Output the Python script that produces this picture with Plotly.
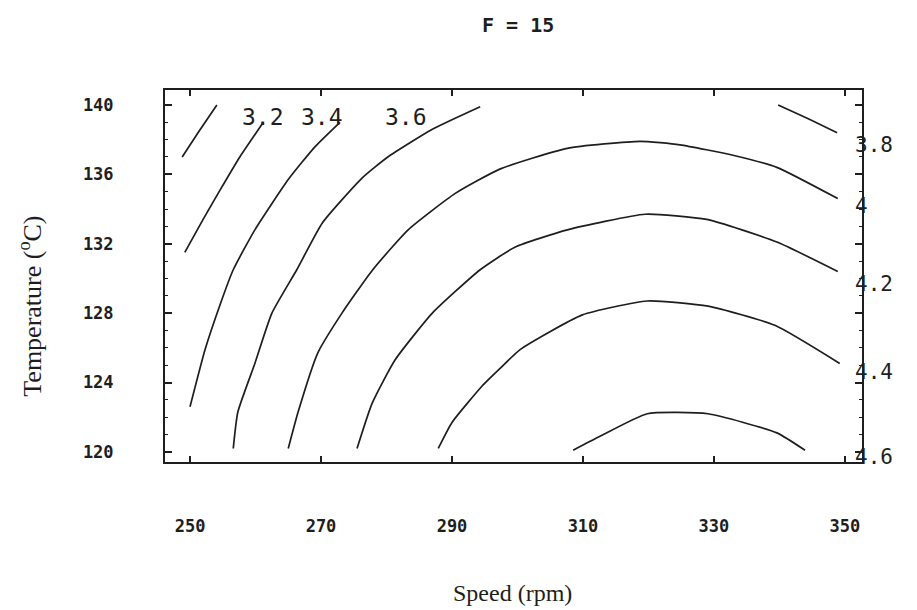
import plotly.graph_objects as go

# ---- axis ticks ----
speed_ticks = [250, 270, 290, 310, 330, 350]
temp_ticks = [120, 124, 128, 132, 136, 140]

# ---- contour lines (speed rpm, temperature C) ----
levels = [3.2, 3.4, 3.6, 3.8, 4.0, 4.2, 4.4, 4.6]

s_32 = [248.8, 251.4, 254.1]
t_32 = [137.0, 138.5, 140.0]

s_34 = [249.2, 252.0, 254.6, 257.6, 261.2]
t_34 = [131.5, 133.4, 135.1, 137.0, 139.0]

s_36 = [250.0, 252.3, 254.6, 256.6, 259.9, 265.0, 269.1, 272.9]
t_36 = [122.6, 125.9, 128.5, 130.5, 132.8, 135.7, 137.6, 139.0]

s_38 = [256.6, 257.3, 259.9, 262.5, 266.3, 270.2, 276.3, 280.2, 287.0, 294.3,
        None, 339.8, 344.4, 348.8]
t_38 = [120.2, 122.3, 125.1, 128.0, 130.5, 133.2, 135.8, 137.0, 138.6, 139.9,
        None, 140.0, 139.2, 138.4]

s_40 = [265.0, 266.5, 269.5, 273.2, 277.9, 283.3, 290.5, 297.3, 307.6, 318.7,
        324.8, 332.9, 339.6, 348.9]
t_40 = [120.2, 122.3, 125.7, 128.0, 130.5, 132.8, 134.9, 136.3, 137.5, 137.9,
        137.7, 137.1, 136.4, 134.6]

s_42 = [275.5, 277.8, 281.3, 287.0, 294.3, 299.6, 307.6, 319.5, 328.9, 339.6, 348.9]
t_42 = [120.2, 122.8, 125.3, 128.0, 130.5, 131.8, 132.8, 133.7, 133.4, 132.1, 130.4]

s_44 = [287.9, 290.0, 294.6, 297.3, 300.4, 309.9, 319.8, 329.1, 339.3, 349.2]
t_44 = [120.2, 121.7, 123.8, 124.8, 125.9, 127.9, 128.7, 128.4, 127.3, 125.1]

s_46 = [308.5, 312.6, 319.8, 329.1, 339.6, 343.9]
t_46 = [120.1, 120.9, 122.2, 122.2, 121.1, 120.1]

line_speeds = [s_32, s_34, s_36, s_38, s_40, s_42, s_44, s_46]
line_temps = [t_32, t_34, t_36, t_38, t_40, t_42, t_44, t_46]

# ---- contour labels ----
top_label_text = ["3.2", "3.4", "3.6"]
top_label_speed = [261.1, 270.2, 283.0]
top_label_temp = [139.3, 139.3, 139.3]

right_label_text = ["3.8", "4", "4.2", "4.4", "4.6"]
right_label_speed = [351.3, 351.3, 351.3, 351.3, 351.3]
right_label_temp = [137.7, 134.2, 129.7, 124.6, 119.7]

INK = "#1e1e1e"
MONO = "DejaVu Sans Mono"

fig = go.Figure()
for lev, xs, ys in zip(levels, line_speeds, line_temps):
    fig.add_trace(go.Scatter(
        x=xs, y=ys, mode="lines", name=str(lev),
        line=dict(color=INK, width=1.7, shape="spline", smoothing=0.5),
        connectgaps=False, showlegend=False, hoverinfo="skip"))

annotations = []
for txt, sx, ty in zip(top_label_text, top_label_speed, top_label_temp):
    annotations.append(dict(x=sx, y=ty, xref="x", yref="y", text=txt,
                            showarrow=False, xanchor="center", yanchor="middle",
                            font=dict(family=MONO, size=23, color=INK)))
for txt, sx, ty in zip(right_label_text, right_label_speed, right_label_temp):
    annotations.append(dict(x=sx, y=ty, xref="x", yref="y", text=txt,
                            showarrow=False, xanchor="left", yanchor="middle",
                            font=dict(family=MONO, size=21, color=INK)))

annotations.append(dict(x=0.5065, y=1.175, xref="paper", yref="paper",
                        text="F = 15", showarrow=False, xanchor="center",
                        yanchor="middle",
                        font=dict(family=MONO, size=20, color=INK, weight="bold")))
annotations.append(dict(x=0.498, y=-0.352, xref="paper", yref="paper",
                        text="Speed (rpm)", showarrow=False, xanchor="center",
                        yanchor="middle",
                        font=dict(family="Liberation Serif", size=24, color=INK)))
annotations.append(dict(x=-0.1923, y=0.42, xref="paper", yref="paper",
                        text="Temperature (<sup>o</sup>C)", showarrow=False,
                        xanchor="center", yanchor="middle", textangle=-90,
                        font=dict(family="Liberation Serif", size=26, color=INK)))

fig.update_layout(
    width=917, height=610,
    margin=dict(l=165, r=55, t=90, b=148),
    paper_bgcolor="white", plot_bgcolor="white",
    annotations=annotations,
    xaxis=dict(range=[246.18, 352.6], tickvals=speed_ticks,
               ticktext=[str(v) for v in speed_ticks],
               showgrid=False, zeroline=False,
               showline=True, linecolor=INK, linewidth=2, mirror="ticks",
               ticks="inside", ticklen=6, tickwidth=1.5, tickcolor=INK,
               ticklabelstandoff=48,
               tickfont=dict(family=MONO, size=17, color=INK, weight="bold")),
    yaxis=dict(range=[119.42, 140.86], tickvals=temp_ticks,
               ticktext=[str(v) for v in temp_ticks],
               showgrid=False, zeroline=False,
               showline=True, linecolor=INK, linewidth=2, mirror="ticks",
               ticks="inside", ticklen=7, tickwidth=1.5, tickcolor=INK,
               ticklabelstandoff=46,
               minor=dict(dtick=1, ticks="inside", ticklen=3, tickwidth=1,
                          tickcolor=INK, showgrid=False),
               tickfont=dict(family=MONO, size=17, color=INK, weight="bold")),
)

fig.write_html("out.html")
